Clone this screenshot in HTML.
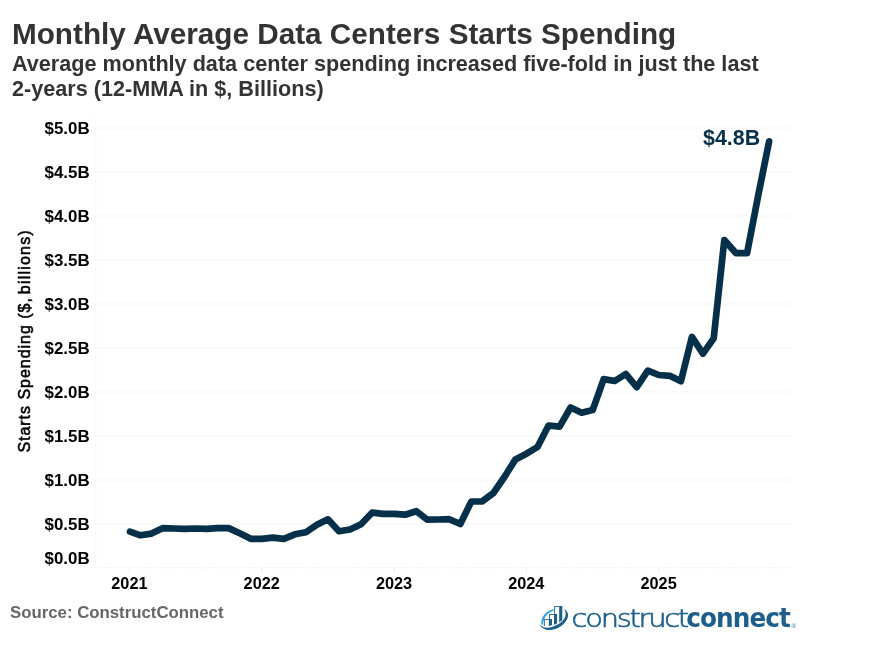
<!DOCTYPE html>
<html><head><meta charset="utf-8"><style>
html,body{margin:0;padding:0;background:#fff;}
body{width:884px;height:653px;position:relative;overflow:hidden;will-change:transform;font-family:"Liberation Sans",Arial,sans-serif;}
.t{position:absolute;white-space:nowrap;font-weight:bold;}
#title{left:12px;top:17px;font-size:29.7px;line-height:34px;color:#333;}
#sub{left:12px;top:50.6px;font-size:21.63px;line-height:25.2px;color:#333;}
#src{left:10px;top:603px;font-size:16.8px;line-height:20px;color:#666;}
svg{position:absolute;left:0;top:0;}
</style></head><body>
<div class="t" id="title">Monthly Average Data Centers Starts Spending</div>
<div class="t" id="sub">Average monthly data center spending increased five-fold in just the last<br>2-years (12-MMA in $, Billions)</div>
<svg width="884" height="653" viewBox="0 0 884 653">
<line x1="91" y1="524" x2="790.5" y2="524" stroke="#f9f9f9" stroke-width="2"/>
<line x1="91" y1="480" x2="790.5" y2="480" stroke="#f9f9f9" stroke-width="2"/>
<line x1="91" y1="436" x2="790.5" y2="436" stroke="#f9f9f9" stroke-width="2"/>
<line x1="91" y1="392" x2="790.5" y2="392" stroke="#f9f9f9" stroke-width="2"/>
<line x1="91" y1="348" x2="790.5" y2="348" stroke="#f9f9f9" stroke-width="2"/>
<line x1="91" y1="304" x2="790.5" y2="304" stroke="#f9f9f9" stroke-width="2"/>
<line x1="91" y1="260" x2="790.5" y2="260" stroke="#f9f9f9" stroke-width="2"/>
<line x1="91" y1="216" x2="790.5" y2="216" stroke="#f9f9f9" stroke-width="2"/>
<line x1="91" y1="172" x2="790.5" y2="172" stroke="#f9f9f9" stroke-width="2"/>
<line x1="91" y1="128" x2="790.5" y2="128" stroke="#f9f9f9" stroke-width="2"/>

<line x1="95.6" y1="116.6" x2="95.6" y2="567" stroke="#f9f9f9" stroke-width="1.6"/>
<line x1="91" y1="567.5" x2="790.5" y2="567.5" stroke="#f0f0f0" stroke-width="1.2" stroke-dasharray="2.5,1.5,1,1.5"/>
<line x1="129.40" y1="568" x2="129.40" y2="572.5" stroke="#ececec" stroke-width="1"/><line x1="140.43" y1="568" x2="140.43" y2="569.8" stroke="#f4f4f4" stroke-width="1"/><line x1="151.46" y1="568" x2="151.46" y2="569.8" stroke="#f4f4f4" stroke-width="1"/><line x1="162.49" y1="568" x2="162.49" y2="569.8" stroke="#f4f4f4" stroke-width="1"/><line x1="173.52" y1="568" x2="173.52" y2="569.8" stroke="#f4f4f4" stroke-width="1"/><line x1="184.55" y1="568" x2="184.55" y2="569.8" stroke="#f4f4f4" stroke-width="1"/><line x1="195.58" y1="568" x2="195.58" y2="569.8" stroke="#f4f4f4" stroke-width="1"/><line x1="206.61" y1="568" x2="206.61" y2="569.8" stroke="#f4f4f4" stroke-width="1"/><line x1="217.64" y1="568" x2="217.64" y2="569.8" stroke="#f4f4f4" stroke-width="1"/><line x1="228.67" y1="568" x2="228.67" y2="569.8" stroke="#f4f4f4" stroke-width="1"/><line x1="239.70" y1="568" x2="239.70" y2="569.8" stroke="#f4f4f4" stroke-width="1"/><line x1="250.73" y1="568" x2="250.73" y2="569.8" stroke="#f4f4f4" stroke-width="1"/><line x1="261.76" y1="568" x2="261.76" y2="572.5" stroke="#ececec" stroke-width="1"/><line x1="272.79" y1="568" x2="272.79" y2="569.8" stroke="#f4f4f4" stroke-width="1"/><line x1="283.82" y1="568" x2="283.82" y2="569.8" stroke="#f4f4f4" stroke-width="1"/><line x1="294.85" y1="568" x2="294.85" y2="569.8" stroke="#f4f4f4" stroke-width="1"/><line x1="305.88" y1="568" x2="305.88" y2="569.8" stroke="#f4f4f4" stroke-width="1"/><line x1="316.91" y1="568" x2="316.91" y2="569.8" stroke="#f4f4f4" stroke-width="1"/><line x1="327.94" y1="568" x2="327.94" y2="569.8" stroke="#f4f4f4" stroke-width="1"/><line x1="338.97" y1="568" x2="338.97" y2="569.8" stroke="#f4f4f4" stroke-width="1"/><line x1="350.00" y1="568" x2="350.00" y2="569.8" stroke="#f4f4f4" stroke-width="1"/><line x1="361.03" y1="568" x2="361.03" y2="569.8" stroke="#f4f4f4" stroke-width="1"/><line x1="372.06" y1="568" x2="372.06" y2="569.8" stroke="#f4f4f4" stroke-width="1"/><line x1="383.09" y1="568" x2="383.09" y2="569.8" stroke="#f4f4f4" stroke-width="1"/><line x1="394.12" y1="568" x2="394.12" y2="572.5" stroke="#ececec" stroke-width="1"/><line x1="405.15" y1="568" x2="405.15" y2="569.8" stroke="#f4f4f4" stroke-width="1"/><line x1="416.18" y1="568" x2="416.18" y2="569.8" stroke="#f4f4f4" stroke-width="1"/><line x1="427.21" y1="568" x2="427.21" y2="569.8" stroke="#f4f4f4" stroke-width="1"/><line x1="438.24" y1="568" x2="438.24" y2="569.8" stroke="#f4f4f4" stroke-width="1"/><line x1="449.27" y1="568" x2="449.27" y2="569.8" stroke="#f4f4f4" stroke-width="1"/><line x1="460.30" y1="568" x2="460.30" y2="569.8" stroke="#f4f4f4" stroke-width="1"/><line x1="471.33" y1="568" x2="471.33" y2="569.8" stroke="#f4f4f4" stroke-width="1"/><line x1="482.36" y1="568" x2="482.36" y2="569.8" stroke="#f4f4f4" stroke-width="1"/><line x1="493.39" y1="568" x2="493.39" y2="569.8" stroke="#f4f4f4" stroke-width="1"/><line x1="504.42" y1="568" x2="504.42" y2="569.8" stroke="#f4f4f4" stroke-width="1"/><line x1="515.45" y1="568" x2="515.45" y2="569.8" stroke="#f4f4f4" stroke-width="1"/><line x1="526.48" y1="568" x2="526.48" y2="572.5" stroke="#ececec" stroke-width="1"/><line x1="537.51" y1="568" x2="537.51" y2="569.8" stroke="#f4f4f4" stroke-width="1"/><line x1="548.54" y1="568" x2="548.54" y2="569.8" stroke="#f4f4f4" stroke-width="1"/><line x1="559.57" y1="568" x2="559.57" y2="569.8" stroke="#f4f4f4" stroke-width="1"/><line x1="570.60" y1="568" x2="570.60" y2="569.8" stroke="#f4f4f4" stroke-width="1"/><line x1="581.63" y1="568" x2="581.63" y2="569.8" stroke="#f4f4f4" stroke-width="1"/><line x1="592.66" y1="568" x2="592.66" y2="569.8" stroke="#f4f4f4" stroke-width="1"/><line x1="603.69" y1="568" x2="603.69" y2="569.8" stroke="#f4f4f4" stroke-width="1"/><line x1="614.72" y1="568" x2="614.72" y2="569.8" stroke="#f4f4f4" stroke-width="1"/><line x1="625.75" y1="568" x2="625.75" y2="569.8" stroke="#f4f4f4" stroke-width="1"/><line x1="636.78" y1="568" x2="636.78" y2="569.8" stroke="#f4f4f4" stroke-width="1"/><line x1="647.81" y1="568" x2="647.81" y2="569.8" stroke="#f4f4f4" stroke-width="1"/><line x1="658.84" y1="568" x2="658.84" y2="572.5" stroke="#ececec" stroke-width="1"/><line x1="669.87" y1="568" x2="669.87" y2="569.8" stroke="#f4f4f4" stroke-width="1"/><line x1="680.90" y1="568" x2="680.90" y2="569.8" stroke="#f4f4f4" stroke-width="1"/><line x1="691.93" y1="568" x2="691.93" y2="569.8" stroke="#f4f4f4" stroke-width="1"/><line x1="702.96" y1="568" x2="702.96" y2="569.8" stroke="#f4f4f4" stroke-width="1"/><line x1="713.99" y1="568" x2="713.99" y2="569.8" stroke="#f4f4f4" stroke-width="1"/><line x1="725.02" y1="568" x2="725.02" y2="569.8" stroke="#f4f4f4" stroke-width="1"/><line x1="736.05" y1="568" x2="736.05" y2="569.8" stroke="#f4f4f4" stroke-width="1"/><line x1="747.08" y1="568" x2="747.08" y2="569.8" stroke="#f4f4f4" stroke-width="1"/><line x1="758.11" y1="568" x2="758.11" y2="569.8" stroke="#f4f4f4" stroke-width="1"/><line x1="769.14" y1="568" x2="769.14" y2="569.8" stroke="#f4f4f4" stroke-width="1"/><line x1="780.17" y1="568" x2="780.17" y2="569.8" stroke="#f4f4f4" stroke-width="1"/>
<g font-family="Liberation Sans, Arial, sans-serif" font-weight="bold" font-size="16.9" fill="#000">
<text x="89.6" y="563.70" text-anchor="end">$0.0B</text>
<text x="89.6" y="529.72" text-anchor="end">$0.5B</text>
<text x="89.6" y="485.74" text-anchor="end">$1.0B</text>
<text x="89.6" y="441.76" text-anchor="end">$1.5B</text>
<text x="89.6" y="397.78" text-anchor="end">$2.0B</text>
<text x="89.6" y="353.80" text-anchor="end">$2.5B</text>
<text x="89.6" y="309.82" text-anchor="end">$3.0B</text>
<text x="89.6" y="265.84" text-anchor="end">$3.5B</text>
<text x="89.6" y="221.86" text-anchor="end">$4.0B</text>
<text x="89.6" y="177.88" text-anchor="end">$4.5B</text>
<text x="89.6" y="133.90" text-anchor="end">$5.0B</text>

</g>
<g font-family="Liberation Sans, Arial, sans-serif" font-weight="bold" font-size="16.3" fill="#000">
<text x="129.40" y="588.8" text-anchor="middle">2021</text>
<text x="261.70" y="588.8" text-anchor="middle">2022</text>
<text x="394.00" y="588.8" text-anchor="middle">2023</text>
<text x="526.30" y="588.8" text-anchor="middle">2024</text>
<text x="658.60" y="588.8" text-anchor="middle">2025</text>

</g>
<text transform="translate(29.9,452.6) rotate(-90)" font-family="Liberation Sans, Arial, sans-serif" font-size="16" letter-spacing="0.97" fill="#000" stroke="#000" stroke-width="0.55">Starts Spending ($,<tspan dx="-2.6" letter-spacing="1.2"> billions)</tspan></text>
<polyline points="130.00,531.70 140.43,535.30 151.46,533.60 162.49,528.20 173.52,528.50 184.55,528.80 195.58,528.50 206.61,528.90 217.64,528.10 228.67,528.10 239.70,533.30 250.73,538.80 261.76,538.80 272.79,537.70 283.82,538.90 294.85,534.30 305.88,532.20 316.91,524.80 327.94,519.30 338.97,531.30 350.00,529.50 361.03,524.30 372.06,512.70 383.09,513.80 394.12,513.80 405.15,514.70 416.18,511.20 427.21,519.60 438.24,519.50 449.27,519.20 460.30,524.00 471.33,501.50 482.36,501.30 493.39,493.00 504.42,477.00 515.45,459.40 526.48,453.70 537.51,447.00 548.54,425.50 559.57,426.60 570.60,407.50 581.63,412.70 592.66,410.10 603.69,379.10 614.72,381.00 625.75,374.00 636.78,387.20 647.81,370.60 658.84,375.00 669.87,375.80 680.90,381.20 691.93,336.90 702.96,353.60 713.69,338.30 724.32,240.00 736.05,253.20 747.08,253.20 758.11,196.00 769.14,141.30" fill="none" stroke="#06304a" stroke-width="6.7" stroke-linejoin="round" stroke-linecap="round"/>
<text x="703" y="144.5" font-family="Liberation Sans, Arial, sans-serif" font-weight="bold" font-size="21.4" fill="#06304a">$4.8B</text>
<g transform="translate(536,602)">
<path d="M18.2,4.0 H23.4 V22.2 H18.2 Z" fill="#1d5f8a"/><rect x="19.10" y="4.80" width="4.3" height="17.40" fill="#fff"/><path d="M23.20,4.0 H26.30 V19.0 L23.20,20.2 Z" fill="#1d5f8a"/>
<path d="M13.0,12.1 H18.2 V23.0 H13.0 Z" fill="#1d5f8a"/><rect x="13.90" y="12.90" width="4.3" height="10.10" fill="#fff"/><path d="M18.00,12.1 H21.10 V21.5 L18.00,22.7 Z" fill="#1d5f8a"/>
<path d="M7.9,17.1 H13.100000000000001 V24.0 H7.9 Z" fill="#1d5f8a"/><rect x="8.80" y="17.90" width="4.3" height="6.10" fill="#fff"/><path d="M12.90,17.1 H16.00 V23.0 L12.90,24.2 Z" fill="#1d5f8a"/>
<path d="M3.6,22.4 C5.8,25 9.6,26.1 15.2,25.1 C22.2,23 27.2,19.6 29,15.3" fill="none" stroke="#fff" stroke-width="1.6"/>
<path d="M3.2,22 C5,25.6 9,28.3 14,28.1 C21,27.7 28,23.6 31.2,17 C33,13 32,9 28,6.9 C29.8,9 30.1,12.5 29,15.3 C27.2,19.6 22.2,23 15.2,25.2 C9.6,26.4 5.6,25 3.2,22 Z" fill="#1d5f8a"/>
<path d="M5.6,22.6 C4.4,17.4 7.6,11.6 13.6,8.5 C15,7.8 16.4,7.4 17.9,7.2 L18.1,8.6 C16.9,8.9 15.8,9.3 14.6,9.9 C9.8,12.5 7.2,17.2 7.1,22.4 Z" fill="#29a3dd"/>
</g>
<text x="571.6" y="627" font-family="DejaVu Sans, sans-serif" font-weight="200" font-size="25.3" letter-spacing="-2" fill="#1d5f8a" stroke="#1d5f8a" stroke-width="0.65" textLength="115.3" lengthAdjust="spacingAndGlyphs">construct</text>
<text x="686.3" y="627" font-family="DejaVu Sans, sans-serif" font-weight="bold" font-size="26" letter-spacing="-1.0" fill="#1d5f8a" textLength="103.6" lengthAdjust="spacingAndGlyphs">connect</text>
<text x="790.6" y="627.9" font-family="DejaVu Sans, sans-serif" font-size="6.6" fill="#5a8aad">®</text>
</svg>
<div class="t" id="src">Source: ConstructConnect</div>
</body></html>
